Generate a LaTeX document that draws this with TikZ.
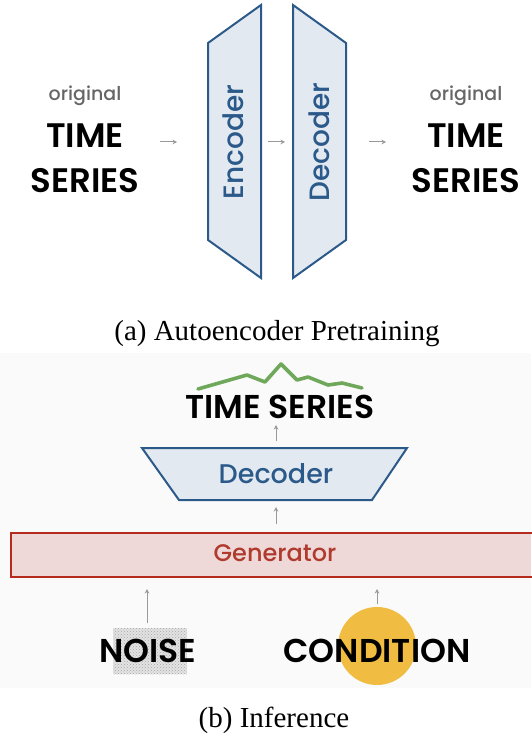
\documentclass[tikz,border=0pt]{standalone}
\usepackage{fontspec}
\setmainfont{Liberation Serif}
\newfontfamily\geo{Poppins}
\newfontfamily\geosb{Poppins}[UprightFont={* SemiBold}]
\newfontfamily\geomd{Poppins}[UprightFont={* Medium}]
\usetikzlibrary{arrows.meta,patterns}
\definecolor{encblue}{HTML}{2B5A8A}
\definecolor{encfill}{HTML}{E3E9F0}
\definecolor{genred}{HTML}{B52B1E}
\definecolor{genfill}{HTML}{EED9D8}
\definecolor{gentext}{HTML}{B03A2E}
\definecolor{tsgreen}{HTML}{6FA85A}
\definecolor{condyellow}{HTML}{F0BC42}
\definecolor{arrgray}{HTML}{999999}
\definecolor{origgray}{HTML}{666666}
\definecolor{panelbg}{HTML}{FAFAFA}
\tikzset{
  flow/.style={draw=arrgray, line width=1pt, -{Stealth[length=4.5pt,width=4.5pt]}},
  blk/.style={draw=encblue, fill=encfill, line width=2pt, line join=miter},
  bigtxt/.style={inner sep=0pt, anchor=base, font=\geosb\fontsize{34}{40}\selectfont},
  origtxt/.style={inner sep=0pt, anchor=base, text=origgray, font=\geomd\fontsize{19}{22}\selectfont},
  bluetxt/.style={inner sep=0pt, text=encblue, font=\geomd\fontsize{28}{32}\selectfont},
  captxt/.style={inner sep=0pt, anchor=base, font=\fontsize{29}{32}\selectfont},
}
\begin{document}
\begin{tikzpicture}[x=1pt,y=-1pt]
\useasboundingbox (0,0) rectangle (531,735);
% ---------- (a) ----------
\node[origtxt] (orig1) at (85,101) {original};
\node[bigtxt] (time1) at (85,148) {TIME};
\node[bigtxt] (ser1) at (85,193) {SERIES};
\node[origtxt] (orig2) at (466,101) {original};
\node[bigtxt] (time2) at (466,148) {TIME};
\node[bigtxt] (ser2) at (466,193) {SERIES};

\draw[blk] (208,43) -- (261,5) -- (261,278) -- (208,240) -- cycle;
\draw[blk] (293,5) -- (346,43) -- (346,240) -- (293,278) -- cycle;
\node[bluetxt, rotate=90] (enc) at (233,142) {Encoder};
\node[bluetxt, rotate=90] (dec1) at (319,142) {Decoder};

\coordinate (a1s) at (160,142); \coordinate (a1e) at (177,142);
\coordinate (a2s) at (268,142); \coordinate (a2e) at (285,142);
\coordinate (a3s) at (369,142); \coordinate (a3e) at (386,142);
\draw[flow] (a1s) -- (a1e);
\draw[flow] (a2s) -- (a2e);
\draw[flow] (a3s) -- (a3e);

\node[captxt] (capa) at (277,340) {(a) Autoencoder Pretraining};

% ---------- (b) ----------
\fill[panelbg] (0,353) rectangle (531,688);

\draw[tsgreen, line width=3.6pt, line join=round, line cap=round]
  (198,389) -- (247,375) -- (265,382) -- (281,364) -- (297,380) -- (308,377)
  -- (328,385) -- (342,383) -- (362,388);
\node[bigtxt, font=\geosb\fontsize{33}{38}\selectfont] (ts) at (280,418) {TIME SERIES};

\draw[blk] (142,448) -- (407,448) -- (372,500) -- (179,500) -- cycle;
\node[bluetxt, font=\geomd\fontsize{27}{30}\selectfont] (dec2) at (276,474) {Decoder};

\coordinate (b1s) at (276,441); \coordinate (b1e) at (276,425);
\coordinate (b2s) at (276,524); \coordinate (b2e) at (276,507);
\draw[flow] (b1s) -- (b1e);
\draw[flow] (b2s) -- (b2e);

\fill[genfill] (11,533) rectangle (531,577);
\draw[genred, line width=2.5pt] (535,533) -- (11,533) -- (11,577) -- (535,577);
\node[inner sep=0pt, text=gentext, font=\geomd\fontsize{24}{28}\selectfont] (gen) at (275,553) {Generator};

\fill[gray!22] (113,628) rectangle (187,674);
\fill[pattern=crosshatch dots, pattern color=gray!70] (113,628) rectangle (187,674);
\fill[condyellow] (377,646) circle (39);
\node[bigtxt, font=\geosb\fontsize{33}{38}\selectfont] (noise) at (148,662) {NOISE};
\node[bigtxt, font=\geosb\fontsize{33}{38}\selectfont] (cond) at (377,662) {CONDITION};

\coordinate (c1s) at (147,623); \coordinate (c1e) at (147,589);
\coordinate (c2s) at (377,604); \coordinate (c2e) at (377,589);
\draw[flow] (c1s) -- (c1e);
\draw[flow] (c2s) -- (c2e);

\node[captxt] (capb) at (274,727) {(b) Inference};
\end{tikzpicture}
\end{document}
